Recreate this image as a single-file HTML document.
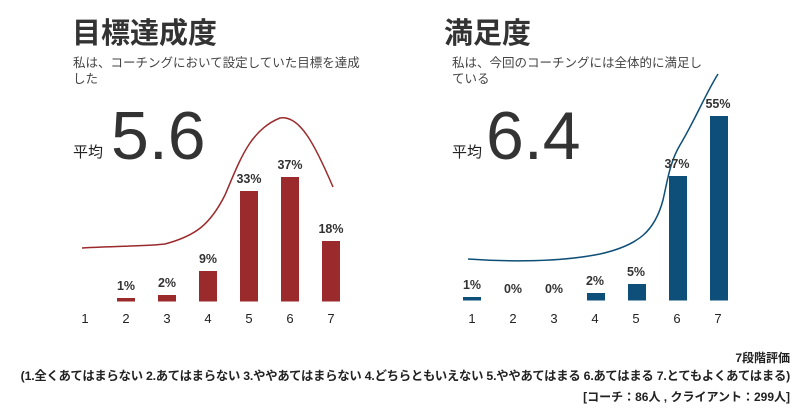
<!DOCTYPE html>
<html><head><meta charset="utf-8"><style>
body{margin:0;width:800px;height:409px;background:#fff;overflow:hidden;font-family:"Liberation Sans","Noto Sans CJK JP",sans-serif;color:#333;position:relative}
.a{position:absolute;white-space:nowrap}
.t{font-size:29px;font-weight:bold;color:#333}
.s{font-size:12.5px;color:#444;line-height:16px}
.h{font-size:15px;color:#222}
.big{font-size:68px;color:#333}
.f{font-size:12px;color:#222;font-weight:bold;right:10px;text-align:right}
</style></head><body>
<div class="a t" style="left:72px;top:10px">目標達成度</div>
<div class="a s" style="left:73px;top:55px">私は、コーチングにおいて設定していた目標を達成<br>した</div>
<div class="a h" style="left:73px;top:141px">平均</div>
<div class="a big" style="left:111px;top:97px">5.6</div>
<div class="a t" style="left:444px;top:10px">満足度</div>
<div class="a s" style="left:452px;top:55px">私は、今回のコーチングには全体的に満足し<br>ている</div>
<div class="a h" style="left:452px;top:141px">平均</div>
<div class="a big" style="left:486px;top:97px">6.4</div>
<svg class="a" style="left:0;top:0" width="800" height="409" font-family="Liberation Sans, sans-serif" font-size="12.5" font-weight="bold" fill="#333" text-anchor="middle">
<g fill="#9b2a2c">
<rect x="117" y="298" width="18" height="3.5"/><rect x="158" y="295" width="18" height="6.5"/><rect x="199" y="271" width="18" height="30.5"/><rect x="240" y="191" width="18" height="110.5"/><rect x="281" y="177" width="18" height="124.5"/><rect x="322" y="241" width="18" height="60.5"/>
</g>
<path d="M82,248 C120,246 150,246 165,244 C195,236 210,225 225,195 C240,160 250,130 280,118 C300,115 315,145 333,187" fill="none" stroke="#9b2a2c" stroke-width="1.5"/>
<g fill="#0d4f78">
<rect x="463" y="297" width="18" height="3.5"/><rect x="587" y="293" width="18" height="7.5"/><rect x="628" y="284" width="18" height="16.5"/><rect x="669" y="176" width="18" height="124.5"/><rect x="710" y="116" width="18" height="184.5"/>
</g>
<path d="M468,259 C510,262 560,262 600,254 C640,245 655,230 663,200 C668,178 670,162 680,145 C695,120 705,95 718,74" fill="none" stroke="#0d4f78" stroke-width="1.5"/>
<g>
<text x="126" y="290">1%</text><text x="167" y="287">2%</text><text x="208" y="263">9%</text><text x="249" y="183">33%</text><text x="290" y="169">37%</text><text x="331" y="233">18%</text>
<text x="472" y="289">1%</text><text x="513" y="293">0%</text><text x="554" y="293">0%</text><text x="595" y="285">2%</text><text x="636" y="276">5%</text><text x="677" y="168">37%</text><text x="718" y="108">55%</text>
</g>
<g font-size="13" font-weight="normal" fill="#222">
<text x="85" y="323">1</text><text x="126" y="323">2</text><text x="167" y="323">3</text><text x="208" y="323">4</text><text x="249" y="323">5</text><text x="290" y="323">6</text><text x="331" y="323">7</text>
<text x="472" y="323">1</text><text x="513" y="323">2</text><text x="554" y="323">3</text><text x="595" y="323">4</text><text x="636" y="323">5</text><text x="677" y="323">6</text><text x="718" y="323">7</text>
</g>
</svg>
<div class="a f" style="top:349px">7段階評価</div>
<div class="a f" style="top:366px;font-size:12.3px;letter-spacing:-0.2px">(1.全くあてはまらない 2.あてはまらない 3.ややあてはまらない 4.どちらともいえない 5.ややあてはまる 6.あてはまる 7.とてもよくあてはまる)</div>
<div class="a f" style="top:388px">[コーチ：86人 , クライアント：299人]</div>
</body></html>
